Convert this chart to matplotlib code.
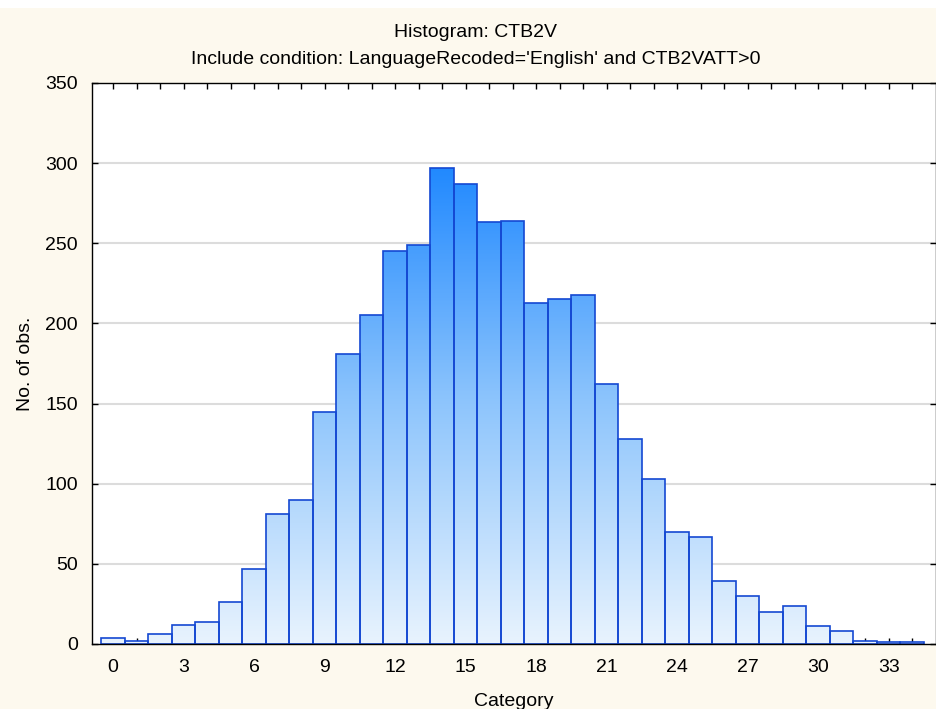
import matplotlib
matplotlib.use('Agg')
import numpy as np
import matplotlib.pyplot as plt
from matplotlib.colors import LinearSegmentedColormap
from matplotlib.path import Path
from matplotlib.patches import PathPatch, Rectangle

plt.rcParams['font.family'] = ['Liberation Sans', 'DejaVu Sans']

# histogram data
categories = np.arange(0, 35)
counts = [4, 2, 6, 12, 14, 26, 47, 81, 90, 145, 181, 205, 245, 249, 297,
          287, 263, 264, 213, 215, 218, 162, 128, 103, 70, 67, 39, 30, 20,
          24, 11, 8, 2, 1, 1]
xticks = np.arange(0, 34, 3)
yticks = np.arange(0, 351, 50)

title1 = "Histogram: CTB2V"
title2 = "Include condition: LanguageRecoded='English' and CTB2VATT>0"

fig = plt.figure(figsize=(9.37, 7.09), dpi=100)
fig.patch.set_facecolor('#fdf9ee')
fig.patches.append(Rectangle((0, 1 - 8 / 709), 1, 8 / 709, transform=fig.transFigure,
                             facecolor='white', edgecolor='none', zorder=0))
ax = fig.add_axes([0.0982, 0.0917, 0.9004, 0.7913])
ax.set_facecolor('white')

ax.set_xlim(-0.9, 35)
ax.set_ylim(0, 350)

# grid
for yv in yticks[1:-1]:
    ax.axhline(yv, color='#dcdcdc', lw=1.5, zorder=1)

# gradient fill clipped to the bars
cmap = LinearSegmentedColormap.from_list('blu', ['#e8f3fe', '#8ec5fc', '#1f88ff'])
grad = np.linspace(0, 350, 400).reshape(-1, 1)
img = ax.imshow(grad, extent=[-0.9, 35, 0, 350], origin='lower', aspect='auto',
                cmap=cmap, vmin=0, vmax=300, zorder=2, interpolation='bilinear')
paths = []
for c, n in zip(categories, counts):
    paths.append(Path([(c - 0.5, 0), (c + 0.5, 0), (c + 0.5, n), (c - 0.5, n), (c - 0.5, 0)],
                      [Path.MOVETO, Path.LINETO, Path.LINETO, Path.LINETO, Path.CLOSEPOLY]))
compound = Path.make_compound_path(*paths)
clip = PathPatch(compound, transform=ax.transData, facecolor='none', edgecolor='none')
ax.add_patch(clip)
img.set_clip_path(clip)

ax.bar(categories, counts, width=1.0, facecolor='none', edgecolor='#1448d2',
       linewidth=1.2, zorder=3)

ax.set_xticks(xticks)
ax.set_xticks(categories, minor=True)
ax.set_yticks(yticks)
ax.tick_params(axis='both', which='both', direction='in', top=True, right=True,
               length=4, width=1, labelsize=14, color='black')
ax.tick_params(axis='x', pad=11)
ax.tick_params(axis='y', pad=10)
for s in ax.spines.values():
    s.set_color('black')
    s.set_linewidth(1)
    s.set_zorder(4)

ax.set_xlabel('Category', fontsize=14, labelpad=12)
ax.set_ylabel('No. of obs.', fontsize=14, labelpad=8)
fig.text(476 / 937, 1 - 37 / 709, title1, fontsize=14, ha='center', va='baseline')
fig.text(476 / 937, 1 - 64 / 709, title2, fontsize=14, ha='center', va='baseline')

fig.savefig('out.png', dpi=100, facecolor=fig.get_facecolor())
